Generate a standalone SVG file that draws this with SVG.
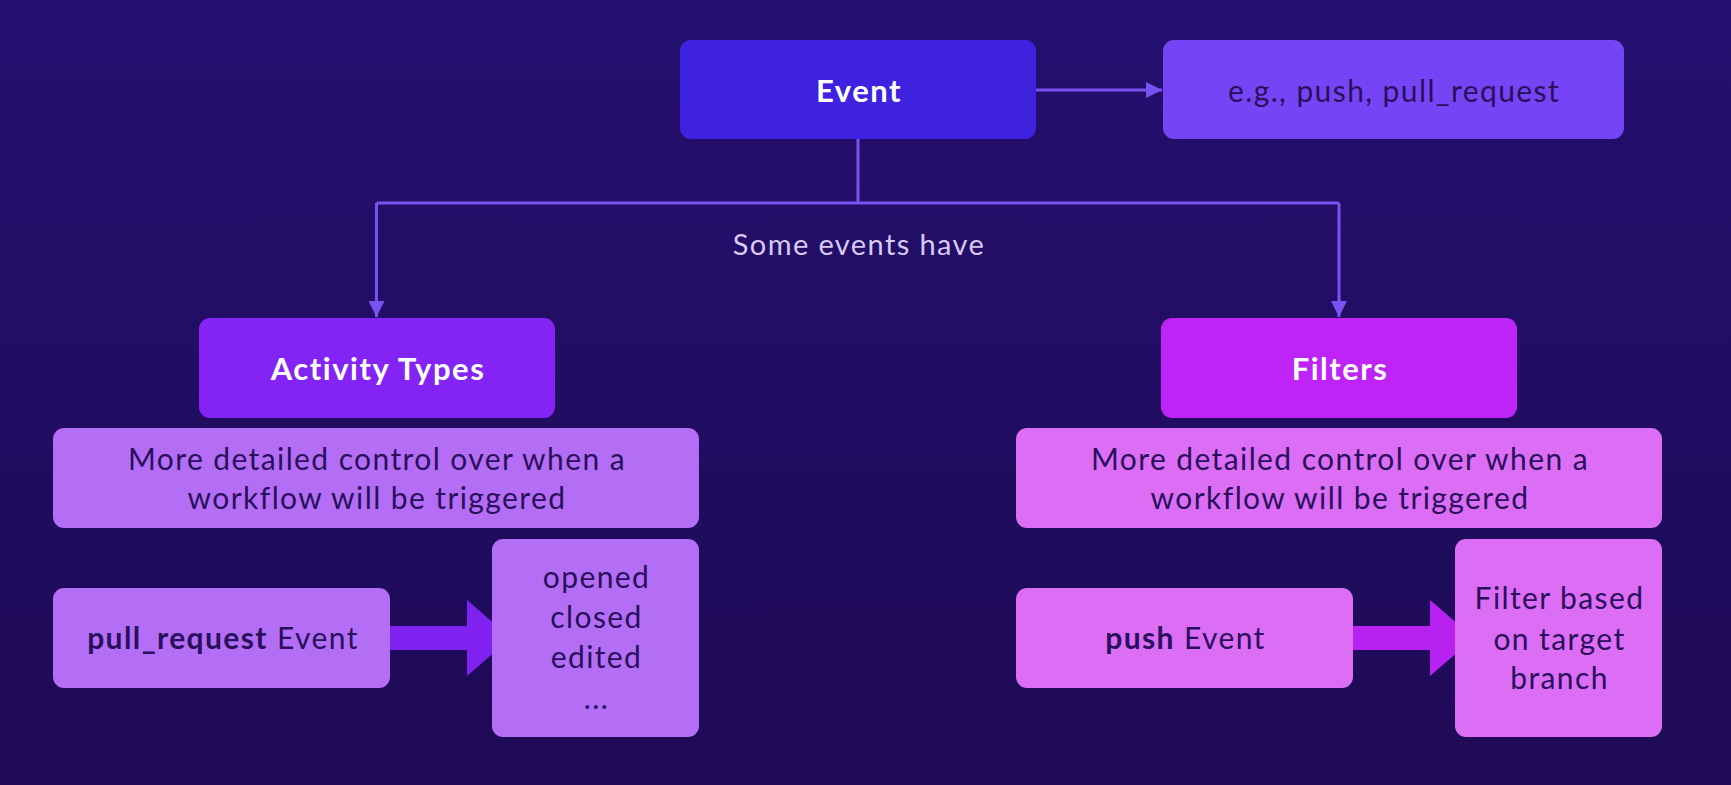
<svg xmlns="http://www.w3.org/2000/svg" width="1731" height="785" viewBox="0 0 1731 785">
<defs>
<linearGradient id="bg" x1="0" y1="0" x2="0" y2="1">
<stop offset="0" stop-color="#24106f"/>
<stop offset="1" stop-color="#1e0a55"/>
</linearGradient>
<marker id="ah" viewBox="0 0 16 16" refX="16" refY="8" markerWidth="16" markerHeight="16" markerUnits="userSpaceOnUse" orient="auto">
<path d="M0,0 L16,8 L0,16 Z" fill="#7a52f2"/>
</marker>
<style>
.t{font-family:Lato,"Open Sans","Liberation Sans",sans-serif;text-anchor:middle;letter-spacing:1.4px}
.w{fill:#ffffff;font-weight:700;font-size:31px;letter-spacing:1.5px}
.d{fill:#2a0f5c;font-size:30px}
.b{font-weight:700}
.ln{fill:none;stroke:#7a52f2;stroke-width:3}
</style>
</defs>
<rect width="1731" height="785" fill="url(#bg)"/>
<g id="connectors">
<line class="ln" x1="1036" y1="90" x2="1162" y2="90" marker-end="url(#ah)"/>
<polyline class="ln" points="858,139 858,203"/>
<polyline class="ln" points="376.5,203 1339,203"/>
<line class="ln" x1="376.5" y1="203" x2="376.5" y2="317" marker-end="url(#ah)"/>
<line class="ln" x1="1339" y1="203" x2="1339" y2="317" marker-end="url(#ah)"/>
<text class="t" x="859" y="255" fill="#d9c9f6" font-size="29">Some events have</text>
<polygon points="377,626 467,626 467,600 511,638 467,676 467,650 377,650" fill="#7f22f0"/>
<polygon points="1340,626 1430,626 1430,600 1474,638 1430,676 1430,650 1340,650" fill="#b822f0"/>
</g>
<g id="event">
<rect x="680" y="40" width="356" height="99" rx="11" fill="#3e22e0"/>
<text class="t w" x="859" y="102">Event</text>
</g>
<g id="examples">
<rect x="1163" y="40" width="461" height="99" rx="11" fill="#7545f5"/>
<text class="t d" x="1394" y="102">e.g., push, pull_request</text>
</g>
<g id="activity-types">
<rect x="199" y="318" width="356" height="100" rx="11" fill="#8324f5"/>
<text class="t w" x="378" y="380">Activity Types</text>
</g>
<g id="filters">
<rect x="1161" y="318" width="356" height="100" rx="11" fill="#bd24f5"/>
<text class="t w" x="1340" y="380">Filters</text>
</g>
<g id="activity-desc">
<rect x="53" y="428" width="646" height="100" rx="11" fill="#b46ef5"/>
<text class="t d" x="377" y="470">More detailed control over when a</text>
<text class="t d" x="377" y="509">workflow will be triggered</text>
</g>
<g id="filters-desc">
<rect x="1016" y="428" width="646" height="100" rx="11" fill="#dc6ef5"/>
<text class="t d" x="1340" y="470">More detailed control over when a</text>
<text class="t d" x="1340" y="509">workflow will be triggered</text>
</g>
<g id="pull-request-event">
<rect x="53" y="588" width="337" height="100" rx="11" fill="#b46ef5"/>
<text class="t d" x="223" y="649"><tspan class="b">pull_request</tspan> Event</text>
</g>
<g id="activity-list">
<rect x="492" y="539" width="207" height="198" rx="11" fill="#b46ef5"/>
<text class="t d" x="596.5" y="588">opened</text>
<text class="t d" x="596.5" y="628">closed</text>
<text class="t d" x="596.5" y="668">edited</text>
<text class="t d" x="596.5" y="709">...</text>
</g>
<g id="push-event">
<rect x="1016" y="588" width="337" height="100" rx="11" fill="#dc6ef5"/>
<text class="t d" x="1185.5" y="649"><tspan class="b">push</tspan> Event</text>
</g>
<g id="filter-branch">
<rect x="1455" y="539" width="207" height="198" rx="11" fill="#dc6ef5"/>
<text class="t d" x="1559.5" y="609">Filter based</text>
<text class="t d" x="1559.5" y="650">on target</text>
<text class="t d" x="1559.5" y="689">branch</text>
</g>
</svg>
